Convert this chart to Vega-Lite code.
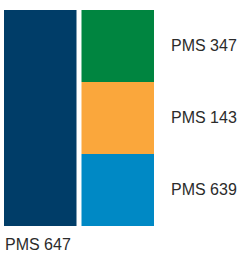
{
  "$schema": "https://vega.github.io/schema/vega-lite/v6.json",
  "width": 150,
  "height": 216,
  "autosize": {"type": "none"},
  "padding": {"left": 4, "top": 10, "right": 88, "bottom": 33},
  "background": "white",
  "config": {"view": {"stroke": null}},
  "data": {
    "values": [
      {"col": "a", "name": "PMS 647", "value": 3, "order": 1},
      {"col": "b", "name": "PMS 639", "value": 1, "order": 1},
      {"col": "b", "name": "PMS 143", "value": 1, "order": 2},
      {"col": "b", "name": "PMS 347", "value": 1, "order": 3}
    ]
  },
  "layer": [
    {
      "mark": {"type": "bar"},
      "encoding": {
        "x": {"field": "col", "type": "nominal", "axis": null, "scale": {"paddingInner": 0.0645, "paddingOuter": 0}},
        "y": {"field": "value", "type": "quantitative", "stack": "zero", "axis": null, "scale": {"domain": [0, 3], "nice": false}},
        "order": {"field": "order", "type": "quantitative"},
        "color": {
          "field": "name", "type": "nominal", "legend": null,
          "scale": {"domain": ["PMS 647", "PMS 639", "PMS 143", "PMS 347"], "range": ["#003D68", "#0089C5", "#FAA73C", "#008540"]}
        }
      }
    },
    {
      "transform": [{"filter": "datum.col == 'b'"}],
      "mark": {"type": "text", "align": "left", "baseline": "middle", "dx": 17, "dy": 36, "font": "Liberation Sans", "fontSize": 16, "color": "#2b2b2b"},
      "encoding": {
        "x": {"field": "col", "type": "nominal", "bandPosition": 1},
        "y": {"field": "value", "type": "quantitative", "stack": "zero"},
        "order": {"field": "order", "type": "quantitative"},
        "text": {"field": "name"}
      }
    },
    {
      "transform": [{"filter": "datum.col == 'a'"}],
      "mark": {"type": "text", "align": "left", "baseline": "middle", "dx": 1, "dy": 19, "font": "Liberation Sans", "fontSize": 16, "color": "#2b2b2b"},
      "encoding": {
        "x": {"field": "col", "type": "nominal", "bandPosition": 0},
        "y": {"datum": 0, "type": "quantitative"},
        "text": {"field": "name"}
      }
    }
  ]
}
